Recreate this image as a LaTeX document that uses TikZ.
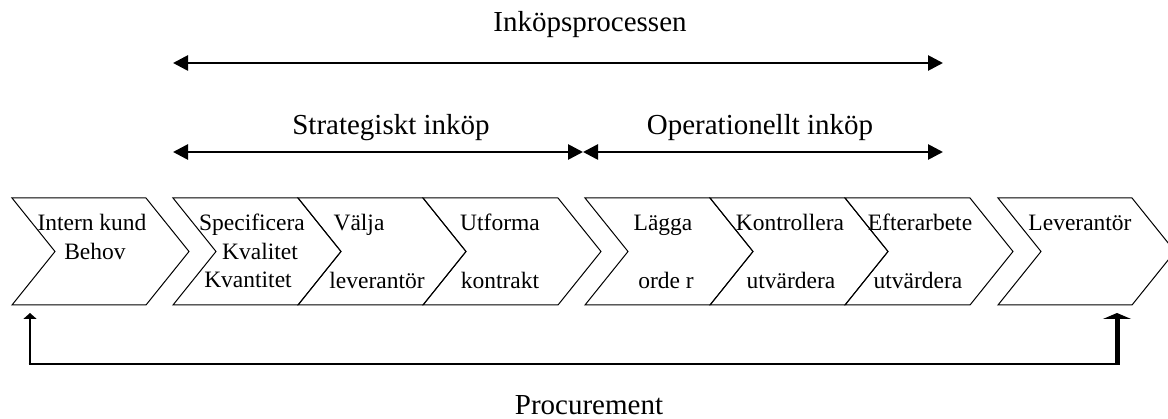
\documentclass[tikz,border=0pt]{standalone}
\usepackage{fontspec}
\setmainfont{Liberation Serif}
\usetikzlibrary{arrows.meta}
\begin{document}
\begin{tikzpicture}[x=1pt,y=1pt,
  chev/.style={draw=black, line width=1pt, line join=miter},
  lbl/.style={font=\fontsize{23.5}{28}\selectfont, anchor=base, inner sep=0pt},
  hdr/.style={font=\fontsize{29}{34}\selectfont, anchor=base, inner sep=0pt},
  span/.style={line width=2.7pt, {Triangle[length=15pt,width=15pt]}-{Triangle[length=15pt,width=15pt]}},
]
\clip (0,0) rectangle (1168,418);
\fill[white] (0,0) rectangle (1168,418);

% chevrons
\foreach \n/\l/\r in {c1/12/146, c2/173/298, c3/298/423, c4/423/558, c5/585/710, c6/710/845, c7/845/970, c8/998/1132} {
  \draw[chev] (\l,220) coordinate (\n-tl) -- (\r,220) -- (\r+43,166.5) -- (\r,113) -- (\l,113) -- (\l+43,166.5) -- cycle;
}

% chevron texts
\node[lbl] (t1a) at (92,187) {Intern kund};
\node[lbl] (t1b) at (95,158) {Behov};
\node[lbl] (t2a) at (252,187) {Specificera};
\node[lbl] (t2b) at (260,158) {Kvalitet};
\node[lbl] (t2c) at (248,130) {Kvantitet};
\node[lbl] (t3a) at (359,187) {Välja};
\node[lbl] (t3b) at (377,129) {leverantör};
\node[lbl] (t4a) at (500,187) {Utforma};
\node[lbl] (t4b) at (500,129) {kontrakt};
\node[lbl] (t5a) at (663,187) {Lägga};
\node[lbl] (t5b) at (666,129) {orde r};
\node[lbl] (t6a) at (790,187) {Kontrollera};
\node[lbl] (t6b) at (791,129) {utvärdera};
\node[lbl] (t7a) at (920,187) {Efterarbete};
\node[lbl] (t7b) at (918,129) {utvärdera};
\node[lbl] (t8a) at (1080,187) {Leverantör};

% headers
\node[hdr] (hIP) at (590,386) {Inköpsprocessen};
\node[hdr] (hS) at (391,283) {Strategiskt inköp};
\node[hdr] (hO) at (760,283) {Operationellt inköp};
\node[hdr] (hP) at (589,4) {Procurement};

% span arrows
\coordinate (pL) at (173,355);
\coordinate (pR) at (943,355);
\coordinate (sL) at (173,266);
\coordinate (sM) at (583,266);
\coordinate (oR) at (943,266);
\draw[span] (pL) -- (pR);
\draw[span] (sL) -- (sM);
\draw[span] (sM) -- (oR);

% feedback loop
\coordinate (fL) at (30,54);
\coordinate (fR) at (1117,54);
\coordinate (aL) at (30,105);
\coordinate (aR) at (1117,105);
\draw[line width=2pt] ([xshift=-1.35pt]fL) -- ([xshift=2.5pt]fR);
\draw[line width=2.7pt, -{Triangle[length=6pt,width=13pt]}] ([yshift=-1pt]fL) -- (aL);
\draw[line width=5pt, -{Triangle[length=6pt,width=28pt]}] ([yshift=-1pt]fR) -- (aR);
\end{tikzpicture}
\end{document}
